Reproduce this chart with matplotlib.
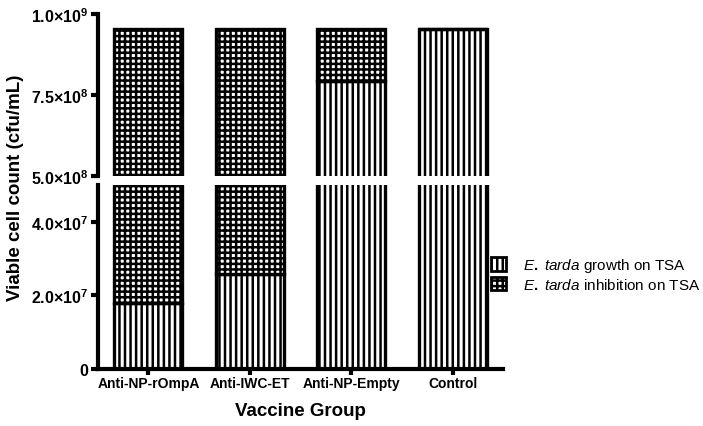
import matplotlib.pyplot as plt
import numpy as np
from matplotlib.patches import Patch

plt.rcParams['font.family'] = 'Liberation Sans'
plt.rcParams['mathtext.fontset'] = 'custom'
plt.rcParams['mathtext.rm'] = 'Liberation Sans:bold'
plt.rcParams['mathtext.it'] = 'Liberation Sans:italic'
plt.rcParams['hatch.linewidth'] = 1.8

# data
groups = ["Anti-NP-rOmpA", "Anti-IWC-ET", "Anti-NP-Empty", "Control"]
total = np.array([9.55e8, 9.55e8, 9.55e8, 9.55e8])
growth = np.array([1.80e7, 2.59e7, 7.95e8, 9.55e8])
inhibition = total - growth

up_ticks = [5e8, 7.5e8, 1e9]
up_labels = [r"5.0$\times$10$^{8}$", r"7.5$\times$10$^{8}$", r"1.0$\times$10$^{9}$"]
lo_ticks = [0, 2e7, 4e7]
lo_labels = ["0", r"2.0$\times$10$^{7}$", r"4.0$\times$10$^{7}$"]

fig = plt.figure(figsize=(7.03, 4.27), dpi=100)
ax_up = fig.add_axes([0.139, 0.5855, 0.577, 0.379])
ax_lo = fig.add_axes([0.139, 0.1335, 0.577, 0.4305])

x = np.arange(len(groups))
w = 0.67
for ax in (ax_up, ax_lo):
    ax.bar(x, growth, w, color='white', edgecolor='black', hatch='|||', linewidth=2.4)
    ax.bar(x, inhibition, w, bottom=growth, color='white', edgecolor='black',
           hatch='+++', linewidth=2.4)
    ax.set_xlim(-0.5, 3.5)
    for s in ('top', 'right'):
        ax.spines[s].set_visible(False)
    ax.spines['left'].set_linewidth(3)
    ax.spines['bottom'].set_linewidth(3)
    ax.tick_params(axis='y', width=3, length=5, labelsize=11.5, pad=2)

ax_up.set_ylim(5e8, 1e9)
ax_up.spines['bottom'].set_visible(False)
ax_up.set_xticks([])
ax_up.set_yticks(up_ticks)
ax_up.set_yticklabels(up_labels, fontweight='bold')

ax_lo.set_ylim(0, 5e7)
ax_lo.set_yticks(lo_ticks)
ax_lo.set_yticklabels(lo_labels, fontweight='bold')
ax_lo.set_xticks(x)
ax_lo.set_xticklabels(groups, fontweight='bold', fontsize=10)
ax_lo.tick_params(axis='x', width=3, length=4, pad=1)

fig.text(0.022, 0.56, "Viable cell count (cfu/mL)", rotation=90, ha='center',
         va='center', fontsize=13.5, fontweight='bold')
ax_lo.set_xlabel("Vaccine Group", fontsize=13.5, fontweight='bold', labelpad=9)

handles = [Patch(facecolor='white', edgecolor='black', hatch='|||', linewidth=2),
           Patch(facecolor='white', edgecolor='black', hatch='+++', linewidth=2)]
fig.legend(handles, [r"$E.\ tarda$ growth on TSA", r"$E.\ tarda$ inhibition on TSA"],
           loc='center left', bbox_to_anchor=(0.698, 0.356), frameon=False,
           fontsize=11, handlelength=1.0, handleheight=1.0, handletextpad=1.1,
           labelspacing=0.15, borderpad=0, borderaxespad=0)

fig.savefig("out.png", dpi=100)
